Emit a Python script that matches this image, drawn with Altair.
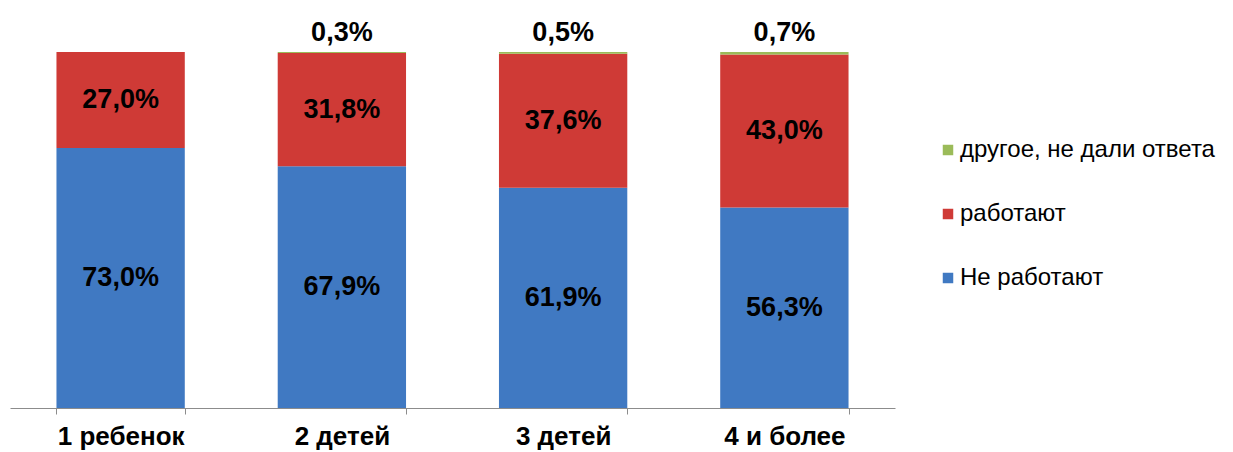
import altair as alt
import pandas as pd

categories = ["1 ребенок", "2 детей", "3 детей", "4 и более"]
not_working = [73.0, 67.9, 61.9, 56.3]
working = [27.0, 31.8, 37.6, 43.0]
other = [0.0, 0.3, 0.5, 0.7]
series = ["Не работают", "работают", "другое, не дали ответа"]
series_colors = ["#4079C2", "#CF3A36", "#9BBB59"]

rows = []
for i, cat in enumerate(categories):
    start = 0.0
    for s, vals in zip(series, [not_working, working, other]):
        v = vals[i]
        end = start + v
        rows.append({
            "cat": cat, "series": s, "value": v,
            "start": start, "end": end, "mid": (start + end) / 2,
            "label": f"{v:.1f}".replace(".", ",") + "%",
        })
        start = end
df = pd.DataFrame(rows)

legend_order = list(reversed(series))
legend_colors = list(reversed(series_colors))

font = "Liberation Sans"

x_enc = alt.X(
    "cat:N", sort=categories, title=None,
    scale=alt.Scale(paddingInner=0.42, paddingOuter=0.21),
    axis=alt.Axis(labelAngle=0, labelFont=font, labelFontSize=26, labelFontWeight="bold",
                  labelColor="black", domainColor="#8c8c8c", tickColor="#8c8c8c",
                  tickSize=6, tickBand="extent", labelPadding=9, grid=False),
)
y_scale = alt.Scale(domain=[0, 100])

base = alt.Chart(df)

bars = base.mark_bar().encode(
    x=x_enc,
    y=alt.Y("start:Q", scale=y_scale, axis=None),
    y2="end:Q",
    color=alt.Color("series:N", scale=alt.Scale(domain=legend_order, range=legend_colors),
                    legend=alt.Legend(title=None, orient="none", legendX=926, legendY=86,
                                      symbolType="square", symbolSize=110, symbolStrokeWidth=0,
                                      labelFont=font, labelFontSize=24, labelColor="black",
                                      labelLimit=400, rowPadding=40, labelOffset=0)),
)

inner = base.transform_filter(alt.datum.series != "другое, не дали ответа").mark_text(
    font=font, fontSize=27, fontWeight="bold", color="black", baseline="middle"
).encode(x=alt.X("cat:N", sort=categories), y=alt.Y("mid:Q", scale=y_scale), text="label:N")

top = base.transform_filter(
    (alt.datum.series == "другое, не дали ответа") & (alt.datum.value > 0)
).mark_text(
    font=font, fontSize=27, fontWeight="bold", color="black", baseline="alphabetic", dy=-11
).encode(x=alt.X("cat:N", sort=categories), y=alt.Y("end:Q", scale=y_scale), text="label:N")

chart = alt.layer(bars, inner, top).properties(
    width=885, height=356,
    autosize=alt.AutoSizeParams(type="none"),
    padding={"left": 10, "top": 52, "right": 338, "bottom": 44},
    background="white",
).configure_view(stroke=None)

chart.save("out.html", embed_options={"renderer": "svg", "actions": False})
